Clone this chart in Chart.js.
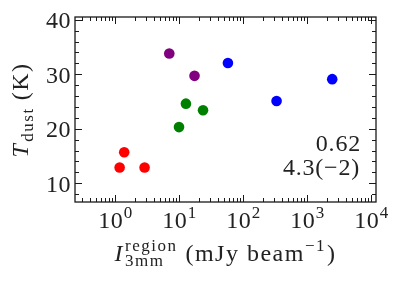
<!DOCTYPE html>
<html>
<head>
<meta charset="utf-8">
<script src="https://cdn.jsdelivr.net/npm/chart.js@4/dist/chart.umd.min.js"></script>
<style>
  html, body { margin: 0; padding: 0; background: #fff; }
  #wrap { width: 399px; height: 283px; }
</style>
</head>
<body>
<div id="wrap"><canvas id="c" width="399" height="283"></canvas></div>
<script>
// ---- data ----
const redX = [1.17, 1.38, 2.87];
const redY = [12.9, 15.7, 12.9];
const greenX = [9.9, 12.7, 23.5];
const greenY = [20.3, 24.6, 23.4];
const purpleX = [6.98, 17.3];
const purpleY = [33.8, 29.7];
const blueX = [57.5, 331, 2450];
const blueY = [32.05, 25.1, 29.1];

const xTickExponents = [0, 1, 2, 3, 4];
const yTickValues = [10, 20, 30, 40];
const annotationLines = ['0.62', '4.3(\u22122)'];

const X_MIN = 0.235, X_MAX = 11830;
const Y_MIN = 6.56, Y_MAX = 40.5;

const FONT = '"Liberation Serif", "Times New Roman", serif';
const BIG = 24, SMALL = 17;
const INK = '#222';

function pts(xs, ys) { return xs.map((x, i) => ({ x: x, y: ys[i] })); }

function ds(label, xs, ys, color) {
  return {
    label: label,
    data: pts(xs, ys),
    backgroundColor: color,
    borderColor: color,
    borderWidth: 0,
    pointRadius: 5.3,
    pointHoverRadius: 5.3
  };
}

const decorPlugin = {
  id: 'decor',
  beforeDatasetsDraw(chart) {
    const ctx = chart.ctx;
    const a = chart.chartArea;
    const xs = chart.scales.x, ys = chart.scales.y;
    ctx.save();
    ctx.strokeStyle = '#1a1a1a';
    ctx.lineWidth = 1.3;
    ctx.strokeRect(a.left, a.top, a.right - a.left, a.bottom - a.top);
    ctx.lineWidth = 1.0;
    for (let d = -1; d <= 4; d++) {
      for (let m = 1; m <= 9; m++) {
        const v = m * Math.pow(10, d);
        if (v < X_MIN || v > X_MAX) continue;
        const px = Math.round(xs.getPixelForValue(v)) + 0.5;
        const len = (m === 1) ? 7 : 4;
        ctx.beginPath();
        ctx.moveTo(px, a.bottom); ctx.lineTo(px, a.bottom - len);
        ctx.moveTo(px, a.top); ctx.lineTo(px, a.top + len);
        ctx.stroke();
      }
    }
    for (let v = 8; v <= 40; v += 2) {
      if (v < Y_MIN || v > Y_MAX) continue;
      const py = Math.round(ys.getPixelForValue(v)) + 0.5;
      const len = (v % 10 === 0) ? 7 : 4;
      ctx.beginPath();
      ctx.moveTo(a.left, py); ctx.lineTo(a.left + len, py);
      ctx.moveTo(a.right, py); ctx.lineTo(a.right - len, py);
      ctx.stroke();
    }
    ctx.restore();
  },
  afterDraw(chart) {
    const ctx = chart.ctx;
    const a = chart.chartArea;
    const xs = chart.scales.x, ys = chart.scales.y;
    ctx.save();
    ctx.fillStyle = INK;
    ctx.textBaseline = 'alphabetic';
    ctx.textAlign = 'left';
    // x tick labels 10^n
    const base = a.bottom + 26;
    ctx.letterSpacing = '0.5px';
    xTickExponents.forEach(e => {
      const px = xs.getPixelForValue(Math.pow(10, e));
      ctx.font = BIG + 'px ' + FONT;
      const w1 = ctx.measureText('10').width;
      ctx.font = SMALL + 'px ' + FONT;
      const w2 = ctx.measureText(String(e)).width;
      const x0 = px - (w1 + w2) / 2;
      ctx.font = BIG + 'px ' + FONT;
      ctx.fillText('10', x0, base);
      ctx.font = SMALL + 'px ' + FONT;
      ctx.fillText(String(e), x0 + w1 + 0.5, base - 10);
    });
    // y tick labels
    ctx.textAlign = 'right';
    ctx.font = BIG + 'px ' + FONT;
    yTickValues.forEach(v => {
      const py = ys.getPixelForValue(v);
      ctx.fillText(String(v), a.left - 4, py + 8.5);
    });
    ctx.textAlign = 'left';

    // x axis title: I^region_3mm (mJy beam^-1)
    ctx.letterSpacing = '1.5px';
    const xb = 261;
    ctx.font = 'italic ' + BIG + 'px ' + FONT;
    const wI = ctx.measureText('I').width;
    ctx.font = SMALL + 'px ' + FONT;
    const wReg = ctx.measureText('region').width;
    const w3 = ctx.measureText('3mm').width;
    const wSS = Math.max(wReg, w3);
    ctx.font = BIG + 'px ' + FONT;
    const wUnit = ctx.measureText('(mJy beam').width;
    ctx.font = SMALL + 'px ' + FONT;
    const wM1 = ctx.measureText('\u22121').width;
    ctx.font = BIG + 'px ' + FONT;
    const wP = ctx.measureText(')').width;
    const gap = 8;
    const total = wI + 1 + wSS + gap + wUnit + wM1 + 1 + wP;
    let x0 = (a.left + a.right) / 2 - total / 2;
    ctx.font = 'italic ' + BIG + 'px ' + FONT;
    ctx.fillText('I', x0, xb);
    x0 += wI + 1;
    ctx.font = SMALL + 'px ' + FONT;
    ctx.fillText('region', x0, xb - 10);
    ctx.fillText('3mm', x0, xb + 5);
    x0 += wSS + gap;
    ctx.font = BIG + 'px ' + FONT;
    ctx.fillText('(mJy beam', x0, xb);
    x0 += wUnit;
    ctx.font = SMALL + 'px ' + FONT;
    ctx.fillText('\u22121', x0, xb - 10);
    x0 += wM1 + 1;
    ctx.font = BIG + 'px ' + FONT;
    ctx.fillText(')', x0, xb);

    // y axis title: T_dust (K)
    ctx.save();
    ctx.translate(28, 110);
    ctx.rotate(-Math.PI / 2);
    ctx.font = 'italic ' + BIG + 'px ' + FONT;
    const wT = ctx.measureText('T').width;
    ctx.font = SMALL + 'px ' + FONT;
    const wD = ctx.measureText('dust').width;
    ctx.font = BIG + 'px ' + FONT;
    const wK = ctx.measureText('(K)').width;
    const gap2 = 7;
    const tot2 = wT + 1 + wD + gap2 + wK;
    let y0 = -tot2 / 2;
    ctx.font = 'italic ' + BIG + 'px ' + FONT;
    ctx.fillText('T', y0, 0);
    y0 += wT + 1;
    ctx.font = SMALL + 'px ' + FONT;
    ctx.fillText('dust', y0, 5);
    y0 += wD + gap2;
    ctx.font = BIG + 'px ' + FONT;
    ctx.fillText('(K)', y0, 0);
    ctx.restore();

    // annotation
    ctx.letterSpacing = '0.8px';
    ctx.textAlign = 'right';
    ctx.font = BIG + 'px ' + FONT;
    ctx.fillText(annotationLines[0], a.right - 15, a.top + 134);
    ctx.fillText(annotationLines[1], a.right - 16, a.top + 158);
    ctx.restore();
  }
};

new Chart(document.getElementById('c'), {
  type: 'scatter',
  data: {
    datasets: [
      ds('red', redX, redY, '#ff0000'),
      ds('green', greenX, greenY, '#008000'),
      ds('purple', purpleX, purpleY, '#800080'),
      ds('blue', blueX, blueY, '#0000ff')
    ]
  },
  options: {
    responsive: false,
    devicePixelRatio: 1,
    animation: false,
    layout: { padding: { top: 17, right: 23, bottom: 0, left: 0 } },
    plugins: { legend: { display: false }, tooltip: { enabled: false } },
    scales: {
      x: {
        type: 'logarithmic',
        min: X_MIN, max: X_MAX,
        grid: { display: false, drawTicks: false },
        border: { display: false },
        ticks: { display: false },
        afterBuildTicks: s => { s.ticks = xTickExponents.map(e => ({ value: Math.pow(10, e) })); },
        afterFit: s => { s.height = 81; }
      },
      y: {
        type: 'linear',
        min: Y_MIN, max: Y_MAX,
        grid: { display: false, drawTicks: false },
        border: { display: false },
        ticks: { display: false },
        afterBuildTicks: s => { s.ticks = yTickValues.map(v => ({ value: v })); },
        afterFit: s => { s.width = 75; }
      }
    }
  },
  plugins: [decorPlugin]
});
</script>
</body>
</html>
